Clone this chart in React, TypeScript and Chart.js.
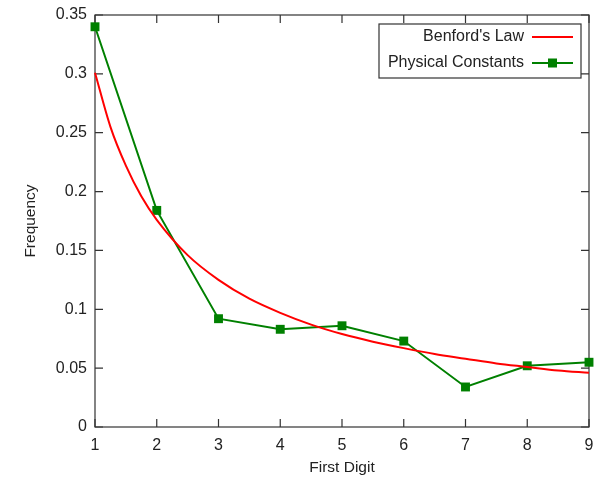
import React, { useEffect, useRef } from "react";
import { Chart, registerables } from "chart.js";

Chart.register(...registerables);

const digits = [1, 2, 3, 4, 5, 6, 7, 8, 9];
const physicalConstants = [0.34, 0.184, 0.092, 0.083, 0.086, 0.073, 0.034, 0.052, 0.055];
const benfordX = [1, 1.25, 1.5, 1.75, 2, 2.5, 3, 3.5, 4, 4.5, 5, 5.5, 6, 6.5, 7, 7.5, 8, 8.5, 9];
const benfordY = [0.301, 0.255, 0.222, 0.196, 0.176, 0.146, 0.125, 0.109, 0.097, 0.087, 0.079, 0.0725, 0.067, 0.062, 0.058, 0.054, 0.051, 0.048, 0.046];
const yTicks = [0, 0.05, 0.1, 0.15, 0.2, 0.25, 0.3, 0.35];
const seriesLabels = ["Benford's Law", "Physical Constants"];

const FONT = "'Liberation Sans', Arial, sans-serif";
const TEXT = "#222";
const AXIS = "#333";

const framePlugin = {
  id: "frame",
  beforeDatasetsDraw(chart: any) {
    const { ctx, chartArea: a, scales } = chart;
    const tl = 8;
    ctx.save();
    ctx.strokeStyle = AXIS;
    ctx.lineWidth = 1.2;
    ctx.strokeRect(a.left, a.top, a.right - a.left, a.bottom - a.top);
    ctx.beginPath();
    digits.forEach((d) => {
      const x = scales.x.getPixelForValue(d);
      ctx.moveTo(x, a.bottom);
      ctx.lineTo(x, a.bottom - tl);
      ctx.moveTo(x, a.top);
      ctx.lineTo(x, a.top + tl);
    });
    yTicks.forEach((v) => {
      const y = scales.y.getPixelForValue(v);
      ctx.moveTo(a.left, y);
      ctx.lineTo(a.left + tl, y);
      ctx.moveTo(a.right, y);
      ctx.lineTo(a.right - tl, y);
    });
    ctx.stroke();
    ctx.restore();
  },
  afterDraw(chart: any) {
    const { ctx, chartArea: a } = chart;
    const ds = chart.data.datasets;
    const boxL = a.right - 210;
    const boxT = a.top + 9;
    const boxR = a.right - 8;
    const boxB = boxT + 54;
    ctx.save();
    ctx.fillStyle = "#fff";
    ctx.fillRect(boxL, boxT, boxR - boxL, boxB - boxT);
    ctx.strokeStyle = AXIS;
    ctx.lineWidth = 1.2;
    ctx.strokeRect(boxL, boxT, boxR - boxL, boxB - boxT);
    ctx.font = `16px ${FONT}`;
    ctx.textAlign = "right";
    ctx.textBaseline = "middle";
    const textR = boxR - 57;
    const sL = boxR - 49;
    const sR = boxR - 8;
    ds.forEach((d: any, i: number) => {
      const y = boxT + 13 + i * 26;
      ctx.fillStyle = TEXT;
      ctx.fillText(d.label, textR, y);
      ctx.strokeStyle = d.borderColor;
      ctx.lineWidth = 2;
      ctx.beginPath();
      ctx.moveTo(sL, y);
      ctx.lineTo(sR, y);
      ctx.stroke();
      if (d.pointRadius > 0) {
        ctx.fillStyle = d.pointBackgroundColor;
        const s = 4.5;
        const cx = (sL + sR) / 2;
        ctx.fillRect(cx - s, y - s, 2 * s, 2 * s);
      }
    });
    ctx.restore();
  },
};

export default function App() {
  const ref = useRef<HTMLCanvasElement | null>(null);
  useEffect(() => {
    if (!ref.current) return;
    const chart = new Chart(ref.current, {
      type: "line",
      data: {
        datasets: [
          {
            label: seriesLabels[0],
            data: benfordX.map((x, i) => ({ x, y: benfordY[i] })),
            borderColor: "#ff0000",
            backgroundColor: "#ff0000",
            borderWidth: 2,
            pointRadius: 0,
            cubicInterpolationMode: "monotone",
            clip: false,
          } as any,
          {
            label: seriesLabels[1],
            data: digits.map((x, i) => ({ x, y: physicalConstants[i] })),
            borderColor: "#008000",
            backgroundColor: "#008000",
            pointBackgroundColor: "#008000",
            pointBorderColor: "#008000",
            borderWidth: 2,
            pointStyle: "rect",
            pointRadius: 6.3,
            pointBorderWidth: 0,
            tension: 0,
            clip: false,
          } as any,
        ],
      },
      options: {
        animation: false,
        responsive: false,
        devicePixelRatio: 1,
        layout: { padding: { top: 15, right: 7, left: 0, bottom: 0 } },
        plugins: { legend: { display: false }, tooltip: { enabled: false } },
        scales: {
          x: {
            type: "linear",
            min: 1,
            max: 9,
            grid: { display: false, drawTicks: false },
            border: { display: false },
            ticks: {
              stepSize: 1,
              padding: 9,
              color: TEXT,
              font: { family: FONT, size: 16 },
              callback: (v: any) => String(v),
            },
            title: {
              display: true,
              text: "First Digit",
              color: TEXT,
              font: { family: FONT, size: 15.5 },
              padding: { top: 0, bottom: 6 },
            },
            afterFit: (s: any) => {
              s.height = 56;
              s.paddingLeft = 0;
              s.paddingRight = 0;
            },
          },
          y: {
            type: "linear",
            min: 0,
            max: 0.35,
            grid: { display: false, drawTicks: false },
            border: { display: false },
            afterBuildTicks: (s: any) => {
              s.ticks = yTicks.map((v) => ({ value: v }));
            },
            ticks: {
              padding: 8,
              color: TEXT,
              font: { family: FONT, size: 16 },
              callback: (v: any) => String(Math.round(v * 100) / 100),
            },
            title: {
              display: true,
              text: "Frequency",
              color: TEXT,
              font: { family: FONT, size: 15.5 },
              padding: { top: 21, bottom: 0 },
            },
            afterFit: (s: any) => {
              s.width = 95;
              s.paddingTop = 0;
              s.paddingBottom = 0;
            },
          },
        },
      },
      plugins: [framePlugin],
    });
    return () => chart.destroy();
  }, []);
  return (
    <div style={{ position: "fixed", left: 0, top: 0, width: 596, height: 483, background: "#fff" }}>
      <canvas ref={ref} width={596} height={483} />
    </div>
  );
}
